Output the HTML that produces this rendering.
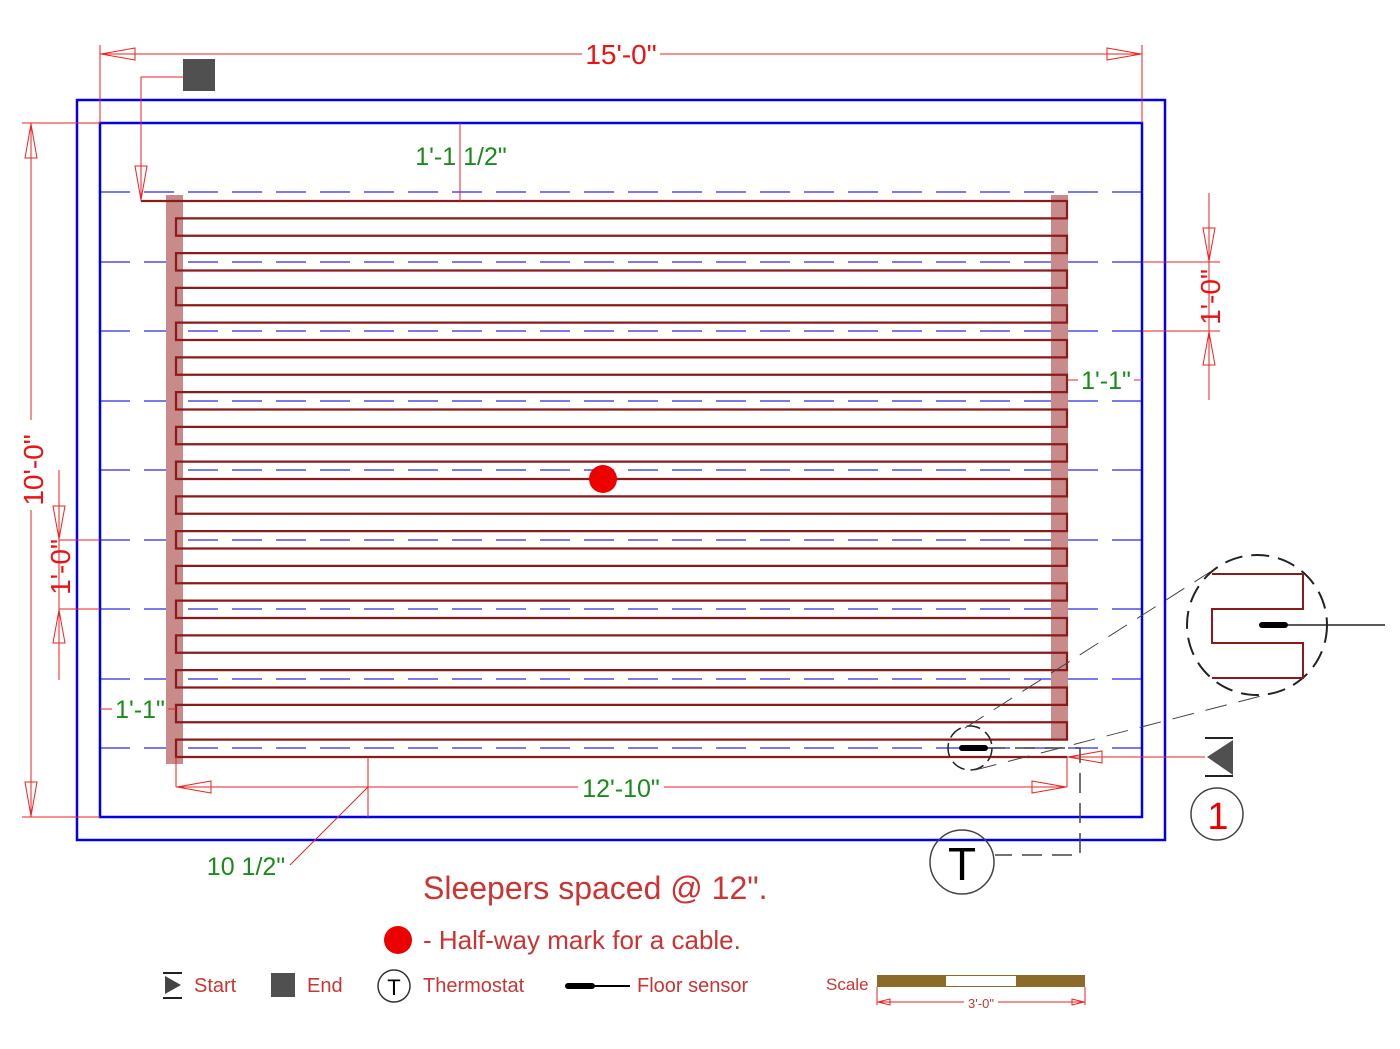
<!DOCTYPE html>
<html><head><meta charset="utf-8"><style>
html,body{margin:0;padding:0;background:#fff;}
svg{display:block;}
text{font-family:"Liberation Sans",Arial,sans-serif;}
</style></head><body>
<svg width="1400" height="1049" viewBox="0 0 1400 1049" xmlns="http://www.w3.org/2000/svg">
<!-- sleepers dashed -->
<g stroke="#2a2ae0" stroke-width="1.2" stroke-dasharray="30,14" fill="none">
<line x1="100" y1="192" x2="1142" y2="192"/>
<line x1="100" y1="262" x2="1142" y2="262"/>
<line x1="100" y1="331" x2="1142" y2="331"/>
<line x1="100" y1="401" x2="1142" y2="401"/>
<line x1="100" y1="470" x2="1142" y2="470"/>
<line x1="100" y1="540" x2="1142" y2="540"/>
<line x1="100" y1="609" x2="1142" y2="609"/>
<line x1="100" y1="679" x2="1142" y2="679"/>
<line x1="100" y1="748" x2="1142" y2="748"/>
</g>
<!-- walls -->
<rect x="77" y="100" width="1088" height="740" fill="none" stroke="#0000ee" stroke-width="2.5"/>
<rect x="100" y="123" width="1042" height="694" fill="none" stroke="#0000ee" stroke-width="2.5"/>
<!-- sleeper strips -->
<rect x="166" y="195" width="17" height="569" fill="#c98a8a"/>
<rect x="1051" y="195" width="17" height="545" fill="#c98a8a"/>
<!-- cable -->
<path fill="none" stroke="#8b1a1a" stroke-width="2.2" d="M141 201 H1067 V218.4 H176 V235.75 H1067 V253.1 H176 V270.5 H1067 V287.9 H176 V305.25 H1067 V322.6 H176 V340 H1067 V357.4 H176 V374.75 H1067 V392.1 H176 V409.5 H1067 V426.9 H176 V444.25 H1067 V461.6 H176 V479 H1067 V496.4 H176 V513.75 H1067 V531.1 H176 V548.5 H1067 V565.9 H176 V583.25 H1067 V600.6 H176 V618 H1067 V635.4 H176 V652.75 H1067 V670.1 H176 V687.5 H1067 V704.9 H176 V722.25 H1067 V739.6 H176 V757 H1067"/>
<circle cx="603" cy="479" r="14" fill="#ee0000"/>
<!-- dimensions red -->
<g stroke="#ee2222" stroke-width="1" fill="none">
<line x1="100" y1="54" x2="582" y2="54"/><line x1="660" y1="54" x2="1142" y2="54"/>
<line x1="100" y1="45" x2="100" y2="123"/><line x1="1142" y1="45" x2="1142" y2="123"/>
<path d="M101 54 L135 48 L135 60 Z"/><path d="M1141 54 L1107 48 L1107 60 Z"/>
<line x1="31" y1="123" x2="31" y2="420"/><line x1="31" y1="510" x2="31" y2="817"/>
<line x1="22" y1="123" x2="100" y2="123"/><line x1="22" y1="817" x2="100" y2="817"/>
<path d="M31 124 L25 158 L37 158 Z"/><path d="M31 816 L25 782 L37 782 Z"/>
<line x1="59" y1="470" x2="59" y2="680"/>
<line x1="59" y1="540" x2="100" y2="540"/><line x1="59" y1="609" x2="100" y2="609"/>
<path d="M59 539 L53 506 L65 506 Z"/><path d="M59 610 L53 643 L65 643 Z"/>
<line x1="1209" y1="193" x2="1209" y2="400"/>
<line x1="1142" y1="262" x2="1220" y2="262"/><line x1="1142" y1="331" x2="1220" y2="331"/>
<path d="M1209 261 L1203 228 L1215 228 Z"/><path d="M1209 332 L1203 365 L1215 365 Z"/>
<line x1="460" y1="123" x2="460" y2="201"/>
<path d="M215 77 H141 V201"/><path d="M141 200 L135 166 L147 166 Z"/>
<line x1="1068" y1="380" x2="1078" y2="380"/><line x1="1134" y1="380" x2="1142" y2="380"/>
<line x1="100" y1="709" x2="112" y2="709"/><line x1="168" y1="709" x2="176" y2="709"/>
<line x1="176" y1="757" x2="176" y2="787"/><line x1="1067" y1="757" x2="1067" y2="787"/>
<line x1="176" y1="787" x2="578" y2="787"/><line x1="664" y1="787" x2="1067" y2="787"/>
<path d="M177 787 L211 781 L211 793 Z"/><path d="M1066 787 L1032 781 L1032 793 Z"/>
<line x1="368" y1="757" x2="368" y2="817"/><line x1="368" y1="787" x2="290" y2="865"/>
<line x1="1067" y1="757" x2="1205" y2="757"/>
<path d="M1068 757 L1102 751 L1102 763 Z"/>
</g>
<rect x="183" y="59" width="32" height="32" fill="#505050"/>
<!-- dim texts -->
<g font-size="28">
<text x="621" y="64" fill="#ee1111" text-anchor="middle">15'-0"</text>
<text transform="translate(43,470) rotate(-90)" fill="#ee1111" text-anchor="middle">10'-0"</text>
<text transform="translate(70,567) rotate(-90)" fill="#ee1111" text-anchor="middle">1'-0"</text>
<text transform="translate(1220,297) rotate(-90)" fill="#ee1111" text-anchor="middle">1'-0"</text>
</g>
<g font-size="25" fill="#1a8a1a">
<text x="461" y="165" text-anchor="middle">1'-1 1/2"</text>
<text x="1106" y="389" text-anchor="middle">1'-1"</text>
<text x="140" y="718" text-anchor="middle">1'-1"</text>
<text x="621" y="797" text-anchor="middle">12'-10"</text>
<text x="246" y="875" text-anchor="middle">10 1/2"</text>
</g>
<!-- sensor and thermostat -->
<g stroke="#222" fill="none" stroke-width="1.5">
<circle cx="970" cy="748" r="22" stroke-dasharray="14,6"/>
<path d="M985 748 H1080 V855 H995" stroke-dasharray="20,10" stroke="#444"/>
<line x1="965" y1="728" x2="1210" y2="572" stroke-dasharray="22,12" stroke="#444" stroke-width="1"/>
<line x1="975" y1="770" x2="1265" y2="695" stroke-dasharray="22,12" stroke="#444" stroke-width="1"/>
<circle cx="1257" cy="625" r="70" stroke-dasharray="18,9" stroke-width="2"/>
<line x1="1260" y1="625" x2="1385" y2="625"/>
<circle cx="962" cy="862" r="32" stroke="#444"/>
<circle cx="1217" cy="814" r="26" stroke="#444"/>
</g>
<line x1="962" y1="748" x2="985" y2="748" stroke="#000" stroke-width="6" stroke-linecap="round"/>
<path d="M1212 574 H1303 V609 H1212 V643 H1303 V678 H1212" fill="none" stroke="#8b1a1a" stroke-width="2"/>
<line x1="1262" y1="625" x2="1285" y2="625" stroke="#000" stroke-width="6" stroke-linecap="round"/>
<text x="962" y="880" font-size="46" text-anchor="middle" fill="#000">T</text>
<text x="1218" y="829" font-size="38" text-anchor="middle" fill="#ee0000">1</text>
<path d="M1207 757 L1233 740 L1233 775 Z" fill="#505050"/>
<line x1="1205" y1="738" x2="1233" y2="738" stroke="#222" stroke-width="2"/>
<line x1="1205" y1="776" x2="1233" y2="776" stroke="#222" stroke-width="2"/>
<!-- notes -->
<text x="423" y="899" font-size="32" fill="#cc3333">Sleepers spaced @ 12".</text>
<circle cx="398" cy="940" r="14" fill="#ee0000"/>
<text x="423" y="949" font-size="26" fill="#cc3333">- Half-way mark for a cable.</text>
<!-- legend -->
<g font-size="20" fill="#cc3333">
<text x="194" y="992">Start</text>
<text x="307" y="992">End</text>
<text x="423" y="992">Thermostat</text>
<text x="637" y="992">Floor sensor</text>
<text x="826" y="990" font-size="17">Scale</text>
</g>
<path d="M165 976 L181 985 L165 994 Z" fill="#444"/>
<line x1="163" y1="973" x2="182" y2="973" stroke="#222" stroke-width="2"/>
<line x1="163" y1="998" x2="182" y2="998" stroke="#222" stroke-width="2"/>
<rect x="271" y="973" width="24" height="24" fill="#505050"/>
<circle cx="394" cy="986" r="16" fill="none" stroke="#333" stroke-width="1.5"/>
<text x="394" y="995" font-size="22" text-anchor="middle" fill="#000">T</text>
<line x1="568" y1="986" x2="592" y2="986" stroke="#000" stroke-width="6" stroke-linecap="round"/>
<line x1="592" y1="986" x2="630" y2="986" stroke="#000" stroke-width="2"/>
<rect x="877" y="975" width="208" height="12" fill="#8b6a2a"/>
<rect x="946" y="976" width="70" height="10" fill="#fff"/>
<g stroke="#ee2222" stroke-width="1" fill="none">
<line x1="877" y1="987" x2="877" y2="1005"/><line x1="1085" y1="987" x2="1085" y2="1005"/>
<line x1="877" y1="1002" x2="964" y2="1002"/><line x1="998" y1="1002" x2="1085" y2="1002"/>
<path d="M878 1002 L890 999 L890 1005 Z"/><path d="M1084 1002 L1072 999 L1072 1005 Z"/>
</g>
<text x="981" y="1008" font-size="13" text-anchor="middle" fill="#cc3333">3'-0"</text>
</svg>
</body></html>
